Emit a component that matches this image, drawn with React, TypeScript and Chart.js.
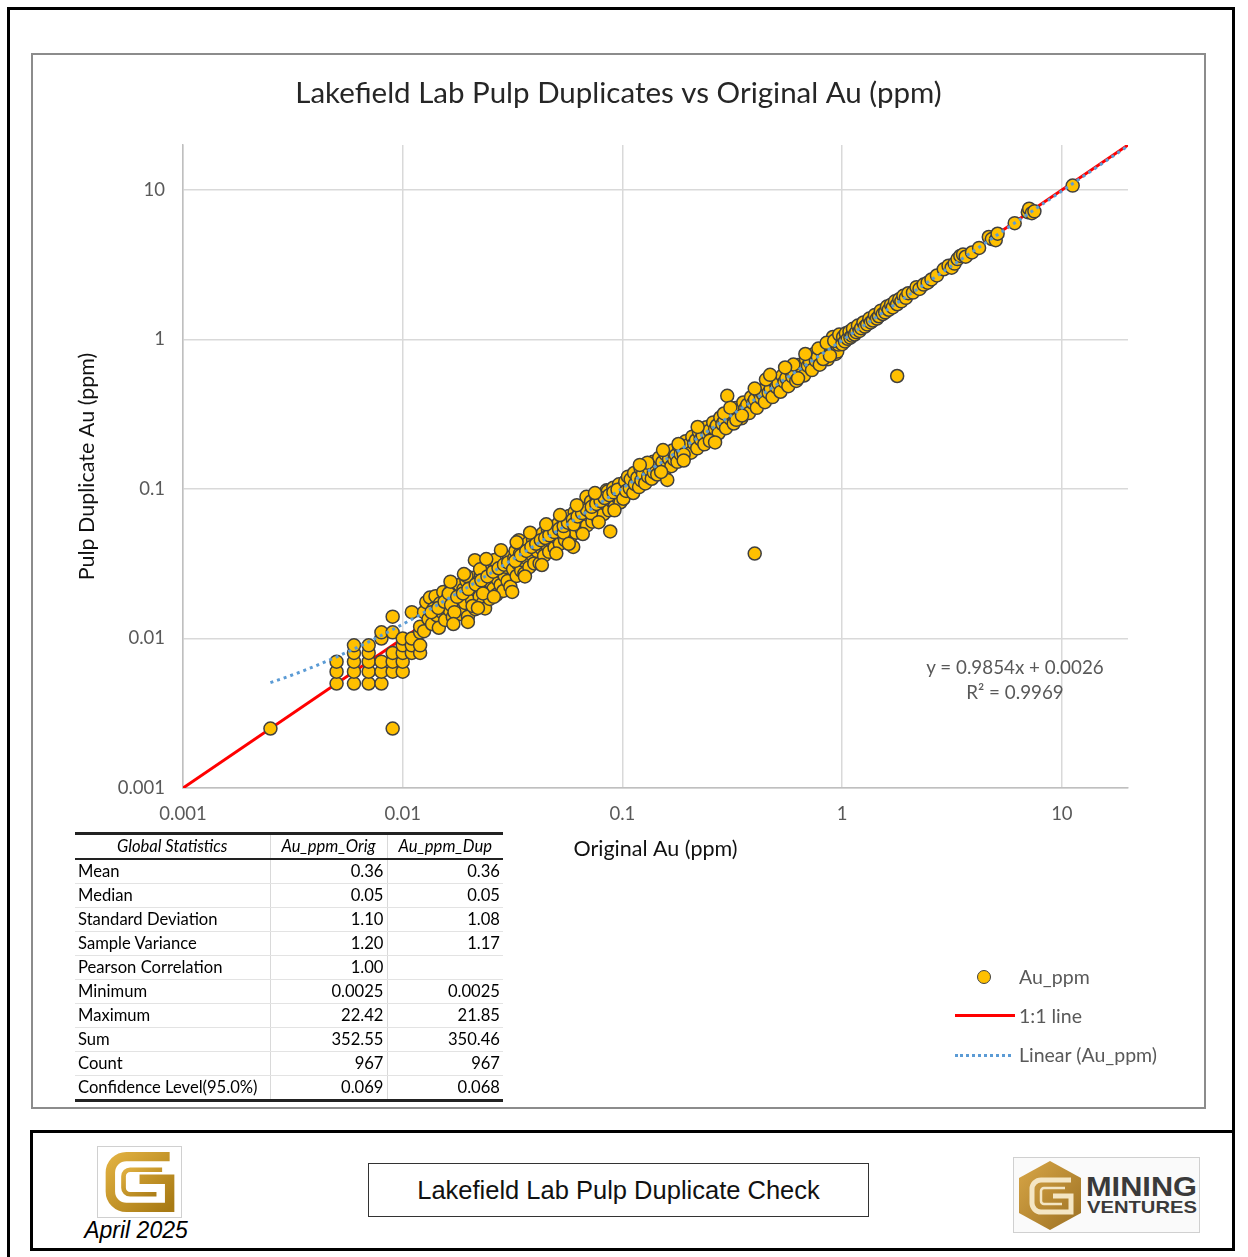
import React, { useEffect, useRef } from 'react';
import { Chart, registerables } from 'chart.js';

Chart.register(...registerables);

// ---------- text ----------
const TITLE = 'Lakefield Lab Pulp Duplicates vs Original Au (ppm)';
const X_TITLE = 'Original Au (ppm)';
const Y_TITLE = 'Pulp Duplicate Au (ppm)';
const FOOTER_TITLE = 'Lakefield Lab Pulp Duplicate Check';
const FOOTER_DATE = 'April 2025';
const EQUATION = 'y = 0.9854x + 0.0026';
const R_SQUARED = 'R² = 0.9969';
const LEGEND_LABELS = ['Au_ppm', '1:1 line', 'Linear (Au_ppm)'];

// ---------- axes ----------
const AXIS_MIN = 0.001;
const AXIS_MAX = 20;
const TICK_VALUES = [0.001, 0.01, 0.1, 1, 10];
const TICK_LABELS = ['0.001', '0.01', '0.1', '1', '10'];

// ---------- data: [original, duplicate] in ppm ----------
const POINTS_BELOW_001: [number, number][] = [
  [0.0025, 0.0025], [0.009, 0.0025],
  [0.005, 0.005], [0.005, 0.006], [0.005, 0.007],
  [0.006, 0.005], [0.006, 0.006], [0.006, 0.007], [0.006, 0.008], [0.006, 0.009],
  [0.007, 0.005], [0.007, 0.006], [0.007, 0.007], [0.007, 0.008], [0.007, 0.009],
  [0.008, 0.005], [0.008, 0.006], [0.008, 0.007], [0.008, 0.010], [0.008, 0.011],
  [0.009, 0.006], [0.009, 0.007], [0.009, 0.008], [0.009, 0.011], [0.009, 0.014],
  [0.010, 0.006], [0.010, 0.007], [0.010, 0.008], [0.010, 0.009], [0.010, 0.010],
  [0.011, 0.008], [0.011, 0.009], [0.011, 0.010], [0.011, 0.015],
  [0.012, 0.008], [0.012, 0.009], [0.012, 0.011], [0.012, 0.012],
];

const POINTS_001_003: [number, number][] = [
  [0.0125, 0.0112], [0.0125, 0.0150], [0.0128, 0.0175], [0.0131, 0.0135], [0.0133, 0.0188],
  [0.0136, 0.0125], [0.0138, 0.0158], [0.0141, 0.0192], [0.0143, 0.0143], [0.0146, 0.0118],
  [0.0148, 0.0172], [0.0151, 0.0150], [0.0153, 0.0205], [0.0156, 0.0133], [0.0159, 0.0164],
  [0.0161, 0.0189], [0.0164, 0.0154], [0.0167, 0.0218], [0.0169, 0.0139], [0.0172, 0.0175],
  [0.0175, 0.0199], [0.0178, 0.0161], [0.0181, 0.0228], [0.0183, 0.0146], [0.0186, 0.0186],
  [0.0189, 0.0213], [0.0192, 0.0173], [0.0195, 0.0243], [0.0198, 0.0140], [0.0201, 0.0198],
  [0.0204, 0.0226], [0.0207, 0.0180], [0.0210, 0.0255], [0.0213, 0.0334], [0.0214, 0.0157],
  [0.0217, 0.0210], [0.0221, 0.0240], [0.0224, 0.0191], [0.0227, 0.0270], [0.0231, 0.0172],
  [0.0234, 0.0222], [0.0237, 0.0159], [0.0238, 0.0252], [0.0241, 0.0203], [0.0245, 0.0288],
  [0.0249, 0.0184], [0.0252, 0.0236], [0.0256, 0.0266], [0.0259, 0.0215], [0.0263, 0.0306],
  [0.0267, 0.0196], [0.0271, 0.0248], [0.0275, 0.0283], [0.0279, 0.0228], [0.0283, 0.0326],
  [0.0287, 0.0208], [0.0291, 0.0263], [0.0296, 0.0301], [0.0300, 0.0242], [0.0305, 0.0348],
  [0.0309, 0.0222],
  [0.0135, 0.0150], [0.0145, 0.0160], [0.0155, 0.0176], [0.0162, 0.0200], [0.0166, 0.0168],
  [0.0172, 0.0150], [0.0177, 0.0190], [0.0188, 0.0200], [0.0195, 0.0262], [0.0199, 0.0214],
  [0.0208, 0.0165], [0.0215, 0.0230], [0.0225, 0.0290], [0.0228, 0.0245], [0.0232, 0.0200],
  [0.0243, 0.0260], [0.0258, 0.0280], [0.0262, 0.0335], [0.0273, 0.0295], [0.0289, 0.0312],
  [0.0302, 0.0322],
  [0.0165, 0.0240], [0.0190, 0.0270], [0.0240, 0.0340], [0.0280, 0.0390],
  [0.0170, 0.0125], [0.0198, 0.0129], [0.0220, 0.0160], [0.0260, 0.0190],
];

const POINTS_003_01: [number, number][] = [
  [0.0315, 0.0205], [0.0318, 0.0290], [0.0322, 0.0345], [0.0326, 0.0385], [0.0330, 0.0262],
  [0.0334, 0.0318], [0.0338, 0.0455], [0.0342, 0.0370], [0.0346, 0.0285], [0.0350, 0.0335],
  [0.0354, 0.0405], [0.0358, 0.0272], [0.0362, 0.0380], [0.0367, 0.0345], [0.0372, 0.0435],
  [0.0377, 0.0300], [0.0382, 0.0400], [0.0387, 0.0365], [0.0392, 0.0460], [0.0397, 0.0318],
  [0.0402, 0.0420], [0.0408, 0.0385], [0.0414, 0.0480], [0.0420, 0.0318], [0.0422, 0.0445],
  [0.0428, 0.0400], [0.0434, 0.0505], [0.0440, 0.0358], [0.0446, 0.0470], [0.0452, 0.0425],
  [0.0458, 0.0530], [0.0464, 0.0380], [0.0470, 0.0495], [0.0477, 0.0448], [0.0484, 0.0560],
  [0.0491, 0.0405], [0.0498, 0.0520], [0.0505, 0.0470], [0.0512, 0.0590], [0.0519, 0.0430],
  [0.0526, 0.0545], [0.0533, 0.0500], [0.0540, 0.0625], [0.0548, 0.0455], [0.0556, 0.0575],
  [0.0564, 0.0525], [0.0572, 0.0660], [0.0580, 0.0480], [0.0588, 0.0610], [0.0597, 0.0410],
  [0.0598, 0.0560], [0.0606, 0.0700], [0.0615, 0.0510], [0.0624, 0.0645], [0.0633, 0.0590],
  [0.0642, 0.0740], [0.0651, 0.0540], [0.0660, 0.0680], [0.0670, 0.0625], [0.0680, 0.0780],
  [0.0686, 0.0886], [0.0690, 0.0570], [0.0700, 0.0720], [0.0710, 0.0660], [0.0720, 0.0825],
  [0.0730, 0.0605], [0.0741, 0.0760], [0.0752, 0.0700], [0.0763, 0.0870], [0.0774, 0.0640],
  [0.0785, 0.0805], [0.0797, 0.0740], [0.0809, 0.0915], [0.0821, 0.0680], [0.0833, 0.0850],
  [0.0845, 0.0785], [0.0847, 0.0980], [0.0858, 0.0965], [0.0870, 0.0720], [0.0880, 0.0520],
  [0.0883, 0.0900], [0.0896, 0.0830], [0.0909, 0.1020], [0.0923, 0.0765], [0.0937, 0.0950],
  [0.0951, 0.0880], [0.0965, 0.1075], [0.0980, 0.0815], [0.0994, 0.1010],
  [0.0325, 0.0330], [0.0345, 0.0360], [0.0365, 0.0385], [0.0385, 0.0410], [0.0405, 0.0430],
  [0.0425, 0.0455], [0.0445, 0.0470], [0.0465, 0.0490], [0.0490, 0.0515], [0.0515, 0.0540],
  [0.0540, 0.0510], [0.0540, 0.0565], [0.0565, 0.0595], [0.0595, 0.0625], [0.0600, 0.0580],
  [0.0625, 0.0655], [0.0655, 0.0690], [0.0690, 0.0725], [0.0720, 0.0690], [0.0725, 0.0760],
  [0.0760, 0.0795], [0.0795, 0.0830], [0.0830, 0.0870], [0.0870, 0.0910], [0.0910, 0.0950],
  [0.0950, 0.0990],
  [0.0330, 0.0440], [0.0380, 0.0510], [0.0450, 0.0580], [0.0520, 0.0670], [0.0620, 0.0780],
  [0.0750, 0.0940], [0.0360, 0.0260], [0.0430, 0.0310], [0.0500, 0.0370], [0.0570, 0.0430],
  [0.0660, 0.0500], [0.0780, 0.0600], [0.0920, 0.0720],
];

const POINTS_01_1: [number, number][] = [
  [0.101, 0.086], [0.103, 0.112], [0.104, 0.097], [0.106, 0.121], [0.108, 0.101],
  [0.109, 0.116], [0.112, 0.094], [0.113, 0.128], [0.114, 0.108], [0.117, 0.119],
  [0.119, 0.103], [0.121, 0.137], [0.122, 0.114], [0.124, 0.126], [0.127, 0.109],
  [0.128, 0.145], [0.131, 0.121], [0.133, 0.134], [0.136, 0.117], [0.138, 0.152],
  [0.139, 0.129], [0.142, 0.141], [0.144, 0.125], [0.147, 0.162], [0.149, 0.137],
  [0.152, 0.151], [0.155, 0.132], [0.157, 0.171], [0.160, 0.115], [0.161, 0.146],
  [0.163, 0.159], [0.167, 0.142], [0.169, 0.181], [0.172, 0.157], [0.175, 0.168],
  [0.178, 0.152], [0.181, 0.194], [0.184, 0.171], [0.188, 0.183], [0.191, 0.163],
  [0.194, 0.209], [0.197, 0.186], [0.201, 0.198], [0.205, 0.175], [0.208, 0.224],
  [0.212, 0.201], [0.216, 0.212], [0.219, 0.187], [0.223, 0.241], [0.227, 0.215],
  [0.232, 0.228], [0.236, 0.199], [0.241, 0.259], [0.245, 0.232], [0.249, 0.246],
  [0.254, 0.214], [0.259, 0.279], [0.264, 0.251], [0.269, 0.266], [0.274, 0.236],
  [0.279, 0.301], [0.285, 0.272], [0.291, 0.287], [0.296, 0.255], [0.300, 0.420],
  [0.302, 0.322], [0.309, 0.296], [0.315, 0.311], [0.321, 0.274], [0.327, 0.348],
  [0.334, 0.318], [0.341, 0.337], [0.348, 0.297], [0.355, 0.379], [0.362, 0.345],
  [0.370, 0.366], [0.377, 0.322], [0.385, 0.411], [0.393, 0.375], [0.400, 0.037],
  [0.401, 0.396], [0.409, 0.349], [0.418, 0.446], [0.427, 0.406], [0.436, 0.431],
  [0.445, 0.381], [0.454, 0.486], [0.463, 0.441], [0.473, 0.468], [0.482, 0.412],
  [0.492, 0.527], [0.503, 0.479], [0.513, 0.508], [0.524, 0.447], [0.535, 0.573],
  [0.546, 0.520], [0.557, 0.551], [0.569, 0.487], [0.581, 0.622], [0.593, 0.565],
  [0.605, 0.598], [0.618, 0.528], [0.631, 0.676], [0.644, 0.613], [0.657, 0.650],
  [0.671, 0.574], [0.685, 0.735], [0.699, 0.666], [0.714, 0.706], [0.729, 0.624],
  [0.744, 0.799], [0.759, 0.723], [0.775, 0.767], [0.791, 0.678], [0.808, 0.868],
  [0.825, 0.786], [0.842, 0.834], [0.860, 0.737], [0.878, 0.944], [0.896, 0.854],
  [0.908, 1.040], [0.915, 0.905], [0.934, 0.800], [0.950, 0.830], [0.953, 1.020],
  [0.962, 0.925], [0.975, 0.965], [0.990, 1.065],
  [0.130, 0.150], [0.150, 0.130], [0.180, 0.200], [0.190, 0.170], [0.290, 0.320],
  [0.310, 0.350], [0.330, 0.290], [0.350, 0.310], [0.600, 0.680], [0.630, 0.550],
  [0.780, 0.870], [0.820, 0.740], [0.850, 0.950], [0.880, 0.780], [0.920, 0.980],
  [0.970, 1.080],
  [0.120, 0.145], [0.153, 0.182], [0.190, 0.155], [0.220, 0.260], [0.250, 0.210],
  [0.264, 0.205], [0.400, 0.470], [0.450, 0.540], [0.470, 0.580], [0.550, 0.650],
  [0.680, 0.800],
];

const POINTS_ABOVE_1: [number, number][] = [
  [1.00, 0.93], [1.01, 1.04], [1.03, 0.97], [1.04, 1.10], [1.06, 1.01], [1.08, 1.13],
  [1.09, 1.03], [1.11, 1.06], [1.12, 1.18], [1.14, 1.08], [1.16, 1.12], [1.18, 1.24],
  [1.20, 1.14], [1.22, 1.19], [1.25, 1.30], [1.27, 1.22], [1.30, 1.26], [1.33, 1.38],
  [1.35, 1.30], [1.38, 1.34], [1.41, 1.46], [1.44, 1.38], [1.47, 1.43], [1.50, 1.56],
  [1.53, 1.48], [1.57, 1.52], [1.60, 1.66], [1.63, 1.58], [1.67, 1.71], [1.70, 1.64],
  [1.74, 1.80], [1.78, 0.57], [1.78, 1.72], [1.82, 1.86], [1.86, 1.80], [1.90, 1.96],
  [1.95, 1.90], [2.00, 2.04], [2.10, 2.06], [2.18, 2.24], [2.25, 2.18], [2.35, 2.33],
  [2.45, 2.40], [2.55, 2.52], [2.70, 2.68], [2.90, 2.95], [3.05, 3.12], [3.15, 3.02],
  [3.25, 3.22], [3.35, 3.45], [3.45, 3.62], [3.55, 3.70], [3.65, 3.58], [3.90, 3.82],
  [4.20, 4.10], [4.65, 4.85], [4.80, 4.70], [5.00, 4.62], [5.10, 5.10], [6.10, 6.00],
  [7.00, 7.10], [7.10, 7.50], [7.30, 7.00], [7.50, 7.20], [11.2, 10.7],
];

// 1:1 reference line and Excel linear trendline
const ONE_TO_ONE: [number, number][] = [[0.001, 0.001], [20, 20]];
const TREND_SLOPE = 0.9854;
const TREND_INTERCEPT = 0.0026;
const TREND_X = [
  0.0025, 0.003, 0.0035, 0.004, 0.005, 0.006, 0.007, 0.008, 0.01, 0.012, 0.015,
  0.02, 0.025, 0.03, 0.04, 0.05, 0.07, 0.1, 0.15, 0.2, 0.3, 0.5, 0.7, 1, 2, 5, 10, 22.42,
];

// ---------- statistics table ----------
const STAT_HEADERS = ['Global Statistics', 'Au_ppm_Orig', 'Au_ppm_Dup'];
const STAT_LABELS = [
  'Mean', 'Median', 'Standard Deviation', 'Sample Variance', 'Pearson Correlation',
  'Minimum', 'Maximum', 'Sum', 'Count', 'Confidence Level(95.0%)',
];
const STAT_ORIG = ['0.36', '0.05', '1.10', '1.20', '1.00', '0.0025', '22.42', '352.55', '967', '0.069'];
const STAT_DUP = ['0.36', '0.05', '1.08', '1.17', '', '0.0025', '21.85', '350.46', '967', '0.068'];

// ---------- styles ----------
const FONT = 'Lato, "Open Sans", sans-serif';
const ARIAL = '"Liberation Sans", Arial, sans-serif';
const GOLD = '#FFC000';
const MARKER_BORDER = '#404040';
const RED = '#FF0000';
const BLUE = '#5B9BD5';
const TEXT_GRAY = '#595959';

const abs = (l: number, t: number, extra: React.CSSProperties = {}): React.CSSProperties => ({
  position: 'absolute', left: l, top: t, ...extra,
});

function GoldG({ color }: { color: string }) {
  return (
    <svg width={80} height={68} viewBox="0 0 85 72">
      <defs>
        <linearGradient id="gg" x1="0" y1="0" x2="1" y2="1">
          <stop offset="0" stopColor="#E0B040" />
          <stop offset="1" stopColor={color} />
        </linearGradient>
      </defs>
      <path d="M 74 9 H 28 A 17 17 0 0 0 11 26 V 46 A 17 17 0 0 0 28 63 H 74 V 33 H 42"
        stroke="url(#gg)" strokeWidth="10" fill="none" />
      <path d="M 66 23 H 32 A 7 7 0 0 0 25 30 V 42 A 7 7 0 0 0 32 49 H 60"
        stroke="url(#gg)" strokeWidth="5" fill="none" />
    </svg>
  );
}

export default function App() {
  const canvasRef = useRef<HTMLCanvasElement | null>(null);

  useEffect(() => {
    if (!canvasRef.current) return;
    const points = [
      ...POINTS_BELOW_001, ...POINTS_001_003, ...POINTS_003_01, ...POINTS_01_1, ...POINTS_ABOVE_1,
    ].map(([x, y]) => ({ x, y }));
    const oneToOne = ONE_TO_ONE.map(([x, y]) => ({ x, y }));
    const trend = TREND_X.map((x) => ({ x, y: TREND_SLOPE * x + TREND_INTERCEPT }));

    const tickLabel = (v: number) => {
      const i = TICK_VALUES.findIndex((t) => Math.abs(t - v) / t < 1e-6);
      return i >= 0 ? TICK_LABELS[i] : '';
    };

    const chart = new Chart(canvasRef.current, {
      type: 'scatter',
      data: {
        datasets: [
          {
            label: LEGEND_LABELS[2], data: trend, showLine: true, borderColor: BLUE,
            borderWidth: 3, borderDash: [3, 4], pointRadius: 0, order: 0, fill: false,
          } as any,
          {
            label: LEGEND_LABELS[0], data: points, backgroundColor: GOLD,
            borderColor: MARKER_BORDER, borderWidth: 1.5, pointRadius: 6.5, order: 1,
          },
          {
            label: LEGEND_LABELS[1], data: oneToOne, showLine: true, borderColor: RED,
            borderWidth: 3, pointRadius: 0, order: 2,
          } as any,
        ],
      },
      options: {
        animation: false,
        responsive: false,
        maintainAspectRatio: false,
        layout: { padding: { left: 0, right: 0, top: 0, bottom: 245 } },
        plugins: {
          legend: { display: false },
          tooltip: { enabled: false },
          title: {
            display: true, text: TITLE, color: '#262626',
            font: { family: FONT, size: 29.5, weight: 'normal', lineHeight: 1.2 },
            padding: { top: 20.3, bottom: 34.3 },
          },
        },
        scales: {
          x: {
            type: 'logarithmic', min: AXIS_MIN, max: AXIS_MAX, position: 'bottom',
            afterBuildTicks: (s: any) => { s.ticks = TICK_VALUES.map((v) => ({ value: v })); },
            afterFit: (s: any) => { s.height = 74; },
            ticks: {
              callback: (v: any) => tickLabel(Number(v)), autoSkip: false, maxRotation: 0,
              padding: 15, color: TEXT_GRAY, font: { family: FONT, size: 18.5 },
            },
            grid: { color: '#d9d9d9', lineWidth: 1.5, drawTicks: false },
            border: { display: true, color: '#bfbfbf', width: 1.5 },
            title: {
              display: true, text: X_TITLE, color: '#111', padding: 0,
              font: { family: FONT, size: 21.5, lineHeight: 1.2 },
            },
          },
          y: {
            type: 'logarithmic', min: AXIS_MIN, max: AXIS_MAX, position: 'left',
            afterBuildTicks: (s: any) => { s.ticks = TICK_VALUES.map((v) => ({ value: v })); },
            afterFit: (s: any) => { s.width = 150; },
            ticks: {
              callback: (v: any) => tickLabel(Number(v)), autoSkip: false,
              padding: 18, color: TEXT_GRAY, font: { family: FONT, size: 18.5 },
            },
            grid: { color: '#d9d9d9', lineWidth: 1.5, drawTicks: false },
            border: { display: true, color: '#bfbfbf', width: 1.5 },
            title: {
              display: true, text: Y_TITLE, color: '#111', padding: { top: 41, bottom: 0 },
              font: { family: FONT, size: 21.5, lineHeight: 1.2 },
            },
          },
          // empty spacer on the right so the plot ends where the reference's does
          spacer: {
            type: 'linear', position: 'right', display: true,
            grid: { display: false, drawTicks: false }, border: { display: false },
            ticks: { display: false },
            afterFit: (s: any) => { s.width = 76; },
          },
        },
      } as any,
    });
    return () => chart.destroy();
  }, []);

  const rowH = 24;
  const cellBase: React.CSSProperties = {
    borderRight: '1px solid #d9d9d9', borderBottom: '1px solid #e3e3e3',
    padding: '0 3px', height: rowH - 1, lineHeight: `${rowH - 1}px`, whiteSpace: 'nowrap',
    overflow: 'visible',
  };

  return (
    <div style={{ fontFamily: FONT }}>
      {/* outer page frame */}
      <div style={abs(7, 7, { width: 1228, height: 3, background: '#000' })} />
      <div style={abs(7, 7, { width: 3, height: 1250, background: '#000' })} />
      <div style={abs(1232, 7, { width: 3, height: 1125, background: '#000' })} />

      {/* chart frame */}
      <div style={abs(31, 53, {
        width: 1175, height: 1056, border: '2px solid #8c8c8c', boxSizing: 'border-box', background: '#fff',
      })} />
      <canvas ref={canvasRef} width={1171} height={1052} style={abs(33, 55, { width: 1171, height: 1052 })} />

      {/* trendline equation */}
      <div style={abs(905, 654, { width: 220, textAlign: 'center', color: TEXT_GRAY, fontSize: 18.8, lineHeight: '25px' })}>
        <div>{EQUATION}</div>
        <div>{R_SQUARED}</div>
      </div>

      {/* legend */}
      <div style={abs(977, 970, { width: 14, height: 14, borderRadius: '50%', background: GOLD, border: `1.5px solid ${MARKER_BORDER}`, boxSizing: 'border-box' })} />
      <div style={abs(1019, 964, { color: TEXT_GRAY, fontSize: 19.5, lineHeight: '26px' })}>{LEGEND_LABELS[0]}</div>
      <div style={abs(955, 1014, { width: 60, height: 3, background: RED })} />
      <div style={abs(1019, 1003, { color: TEXT_GRAY, fontSize: 19.5, lineHeight: '26px' })}>{LEGEND_LABELS[1]}</div>
      <div style={abs(955, 1054, { width: 56, height: 0, borderTop: `3px dotted ${BLUE}` })} />
      <div style={abs(1019, 1042, { color: TEXT_GRAY, fontSize: 19.5, lineHeight: '26px' })}>{LEGEND_LABELS[2]}</div>

      {/* statistics table */}
      <table style={abs(75, 832, {
        borderCollapse: 'collapse', fontSize: 16.6, color: '#000', fontFamily: FONT,
        borderTop: '3px solid #222', borderBottom: '3px solid #222', tableLayout: 'fixed', width: 428,
      })}>
        <colgroup>
          <col style={{ width: 195 }} />
          <col style={{ width: 117 }} />
          <col style={{ width: 116 }} />
        </colgroup>
        <thead>
          <tr>
            {STAT_HEADERS.map((h, i) => (
              <th key={h} style={{
                ...cellBase, fontStyle: 'italic', fontWeight: 'normal', textAlign: 'center',
                fontSize: 16.6, borderBottom: '2px solid #222',
                borderRight: i < 2 ? '1px solid #d9d9d9' : 'none',
              }}>{h}</th>
            ))}
          </tr>
        </thead>
        <tbody>
          {STAT_LABELS.map((lab, r) => (
            <tr key={lab}>
              <td style={{ ...cellBase, textAlign: 'left' }}>{lab}</td>
              <td style={{ ...cellBase, textAlign: 'right' }}>{STAT_ORIG[r]}</td>
              <td style={{ ...cellBase, textAlign: 'right', borderRight: 'none' }}>{STAT_DUP[r]}</td>
            </tr>
          ))}
        </tbody>
      </table>

      {/* footer */}
      <div style={abs(30, 1130, { width: 1205, height: 121, border: '3px solid #000', boxSizing: 'border-box' })} />
      <div style={abs(97, 1146, { width: 85, height: 72, border: '1px solid #d0d0d0', boxSizing: 'border-box', display: 'flex', alignItems: 'center', justifyContent: 'center' })}>
        <GoldG color="#A87A14" />
      </div>
      <div style={abs(61, 1217, { width: 150, textAlign: 'center', fontFamily: ARIAL, fontStyle: 'italic', fontSize: 23, lineHeight: '27px', color: '#000' })}>
        {FOOTER_DATE}
      </div>
      <div style={abs(368, 1163, {
        width: 501, height: 54, border: '1.5px solid #333', boxSizing: 'border-box',
        display: 'flex', alignItems: 'center', justifyContent: 'center',
        fontFamily: ARIAL, fontSize: 25.5, color: '#111',
      })}>{FOOTER_TITLE}</div>
      <div style={abs(1013, 1157, { width: 187, height: 76, border: '1px solid #d0d0d0', boxSizing: 'border-box', background: '#fafafa' })}>
        <svg width="185" height="74" viewBox="0 0 185 74" style={{ position: 'absolute', left: 0, top: 0 }}>
          <defs>
            <linearGradient id="hexg" x1="0" y1="0" x2="1" y2="1">
              <stop offset="0" stopColor="#D8A646" />
              <stop offset="1" stopColor="#9C7124" />
            </linearGradient>
          </defs>
          <polygon points="36,3 67,20 67,55 36,72 5,55 5,20" fill="url(#hexg)" />
          <path d="M 57 22 H 27 A 9 9 0 0 0 18 31 V 45 A 9 9 0 0 0 27 54 H 57 V 38 H 39"
            stroke="#f4e6c4" strokeWidth="5" fill="none" />
          <path d="M 51 30 H 30 A 3 3 0 0 0 27 33 V 43 A 3 3 0 0 0 30 46 H 48"
            stroke="#f4e6c4" strokeWidth="2.5" fill="none" />
          <text x="72" y="38" fontFamily={ARIAL} fontWeight="bold" fontSize="27" fill="#3a3a3a"
            textLength="111" lengthAdjust="spacingAndGlyphs">MINING</text>
          <text x="73" y="55" fontFamily={ARIAL} fontWeight="bold" fontSize="17" fill="#3a3a3a"
            textLength="110" lengthAdjust="spacingAndGlyphs">VENTURES</text>
        </svg>
      </div>
    </div>
  );
}
